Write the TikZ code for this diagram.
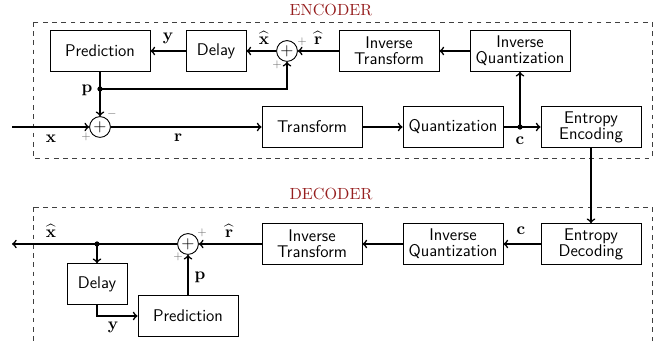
\documentclass[tikz,border=0pt]{standalone}
\usepackage{amsmath}
\usetikzlibrary{calc}
\definecolor{titlered}{RGB}{150,30,30}
\begin{document}
\begin{tikzpicture}[x=0.65pt,y=-0.65pt,
  blk/.style={draw, line width=0.6pt, font=\fontsize{11}{12.5}\selectfont\sffamily, align=center, minimum width=65pt, minimum height=26.5pt, inner sep=1pt},
  dly/.style={blk, minimum width=39pt},
  sumc/.style={draw, line width=0.6pt, circle, minimum size=13.5pt, inner sep=0pt, font=\fontsize{11}{12}\selectfont},
  con/.style={line width=1.05pt,->},
  lin/.style={line width=1.05pt},
  lab/.style={inner sep=0pt, font=\fontsize{10.5}{12}\selectfont},
  sgn/.style={font=\scriptsize, text=black!55, inner sep=0pt},
  title/.style={text=titlered, inner sep=0pt, font=\fontsize{10.5}{12}\selectfont},
  frame/.style={dashed, line width=0.6pt, black!75}]
\useasboundingbox (0,0) rectangle (662,343);
% frames
\draw[frame] (33,22) rectangle (652,158);
\draw[frame] (33,207) rectangle (652,380);
\node[title] (tenc) at (331,10) {ENCODER};
\node[title] (tdec) at (331,194) {DECODER};
% encoder
\node[blk] (ePred) at (100,51) {Prediction};
\node[dly] (eDelay) at (216,51) {Delay};
\node[sumc] (eSum) at (287,51) {$+$};
\node[blk] (eIT) at (389,51) {Inverse\\[-2pt]Transform};
\node[blk] (eIQ) at (520,51) {Inverse\\[-2pt]Quantization};
\node[sumc] (eSum2) at (100,127) {$+$};
\node[blk] (eT) at (312,127) {Transform};
\node[blk] (eQ) at (453,127) {Quantization};
\node[blk] (eEE) at (591,127) {Entropy\\[-2pt]Encoding};
\coordinate (pdot) at (100,89);
\coordinate (cdot) at (520,127);
\coordinate (inp) at (12,127);
% decoder
\node[blk] (dEE) at (591,244) {Entropy\\[-2pt]Decoding};
\node[blk] (dIQ) at (453,244) {Inverse\\[-2pt]Quantization};
\node[blk] (dIT) at (312,244) {Inverse\\[-2pt]Transform};
\node[sumc] (dSum) at (188,244) {$+$};
\coordinate (ddot) at (97,244);
\coordinate (outp) at (12,244);
\node[dly] (dDelay) at (97,284) {Delay};
\node[blk] (dPred) at (188,316) {Prediction};
% encoder connectors
\draw[con] (eIQ) -- (eIT);
\draw[con] (eIT) -- (eSum);
\draw[con] (eSum) -- (eDelay);
\draw[con] (eDelay) -- (ePred);
\draw[lin] (ePred) -- (pdot);
\draw[con] (pdot) -- (eSum2);
\draw[con] (pdot) -| (eSum);
\draw[con] (inp) -- (eSum2);
\draw[con] (eSum2) -- (eT);
\draw[con] (eT) -- (eQ);
\draw[lin] (eQ) -- (cdot);
\draw[con] (cdot) -- (eEE);
\draw[con] (cdot) -- (eIQ);
\fill (pdot) circle (1.7pt);
\fill (cdot) circle (1.7pt);
\draw[con] (eEE) -- (dEE);
% decoder connectors
\draw[con] (dEE) -- (dIQ);
\draw[con] (dIQ) -- (dIT);
\draw[con] (dIT) -- (dSum);
\draw[con] (dSum) -- (outp);
\draw[con] (ddot) -- (dDelay);
\draw[con] (dDelay) |- (dPred);
\draw[con] (dPred) -- (dSum);
\fill (ddot) circle (1.7pt);
% labels encoder
\node[lab] (ly) at (168,38) {$\mathbf{y}$};
\node[lab] (lxh) at (264,38) {$\widehat{\mathbf{x}}$};
\node[lab] (lrh) at (318,38) {$\widehat{\mathbf{r}}$};
\node[lab] (lp) at (87,90) {$\mathbf{p}$};
\node[lab] (lx) at (51,139) {$\mathbf{x}$};
\node[lab] (lr) at (178,138) {$\mathbf{r}$};
\node[lab] (lc) at (520,141) {$\mathbf{c}$};
\node[sgn] (s1) at (302,42) {$+$};
\node[sgn] (s2) at (277,65) {$+$};
\node[sgn] (s3) at (86,137) {$+$};
\node[sgn] (s4) at (112,114) {$-$};
% labels decoder
\node[lab] (dlxh) at (51,231) {$\widehat{\mathbf{x}}$};
\node[lab] (dlrh) at (229,231) {$\widehat{\mathbf{r}}$};
\node[lab] (dlc) at (521,231) {$\mathbf{c}$};
\node[lab] (dlp) at (200,277) {$\mathbf{p}$};
\node[lab] (dly) at (113,327) {$\mathbf{y}$};
\node[sgn] (s5) at (202,233) {$+$};
\node[sgn] (s6) at (178,257) {$+$};
\end{tikzpicture}
\end{document}
